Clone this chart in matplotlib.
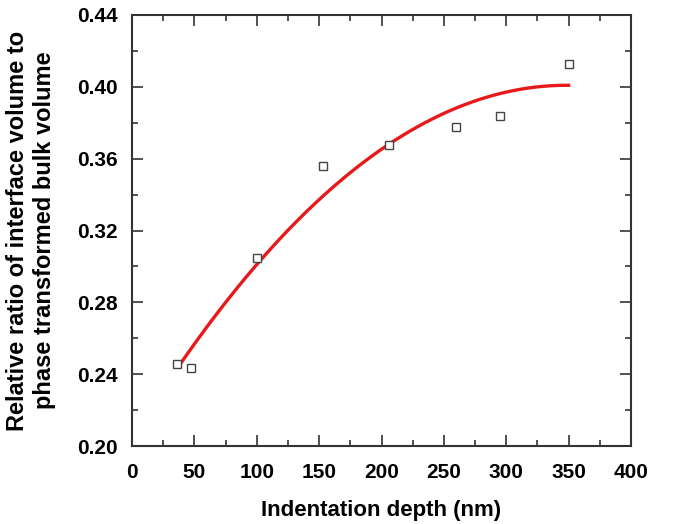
import numpy as np
import matplotlib.pyplot as plt
from matplotlib.ticker import MultipleLocator

plt.rcParams['font.family'] = ['Liberation Sans', 'DejaVu Sans']

# measured points
depth = [36, 47, 100, 153, 206, 260, 295, 350]
ratio = [0.2455, 0.2432, 0.3045, 0.3558, 0.3675, 0.3778, 0.3836, 0.4125]

# quadratic fit over the measured range
coef = np.polyfit(depth, ratio, 2)
x_fit = np.linspace(37, 350, 200)
y_fit = np.polyval(coef, x_fit)

fig = plt.figure(figsize=(6.85, 5.24), dpi=100)
ax = fig.add_axes([132 / 685, 78 / 524, 499 / 685, 431 / 524])

ax.plot(x_fit, y_fit, color='#e8191b', lw=2.4, zorder=2)
ax.plot(depth, ratio, ls='none', marker='s', ms=5.3, mfc='white',
        mec='#444444', mew=1.0, zorder=3)

ax.set_xlim(0, 400)
ax.set_ylim(0.20, 0.44)
ax.xaxis.set_major_locator(MultipleLocator(50))
ax.xaxis.set_minor_locator(MultipleLocator(25))
ax.yaxis.set_major_locator(MultipleLocator(0.04))
ax.yaxis.set_minor_locator(MultipleLocator(0.02))
ax.yaxis.set_major_formatter(lambda v, p: f"{v:.2f}")

ax.tick_params(which='both', direction='in', top=True, right=True,
               color='#333333', width=1.2)
ax.tick_params(which='major', length=8, labelsize=15)
ax.tick_params(which='minor', length=4.5)
ax.tick_params(axis='x', which='major', pad=12)
ax.tick_params(axis='y', which='major', pad=10.5)
for lab in ax.get_xticklabels() + ax.get_yticklabels():
    lab.set_fontweight('bold')
for s in ax.spines.values():
    s.set_linewidth(1.5)
    s.set_color('#333333')

ax.set_xlabel("Indentation depth (nm)", fontsize=16, fontweight='bold', labelpad=13)
ax.set_ylabel("Relative ratio of interface volume to\nphase transformed bulk volume",
              fontsize=17, fontweight='bold', labelpad=15, linespacing=1.2)

fig.savefig('out.png', dpi=100)
